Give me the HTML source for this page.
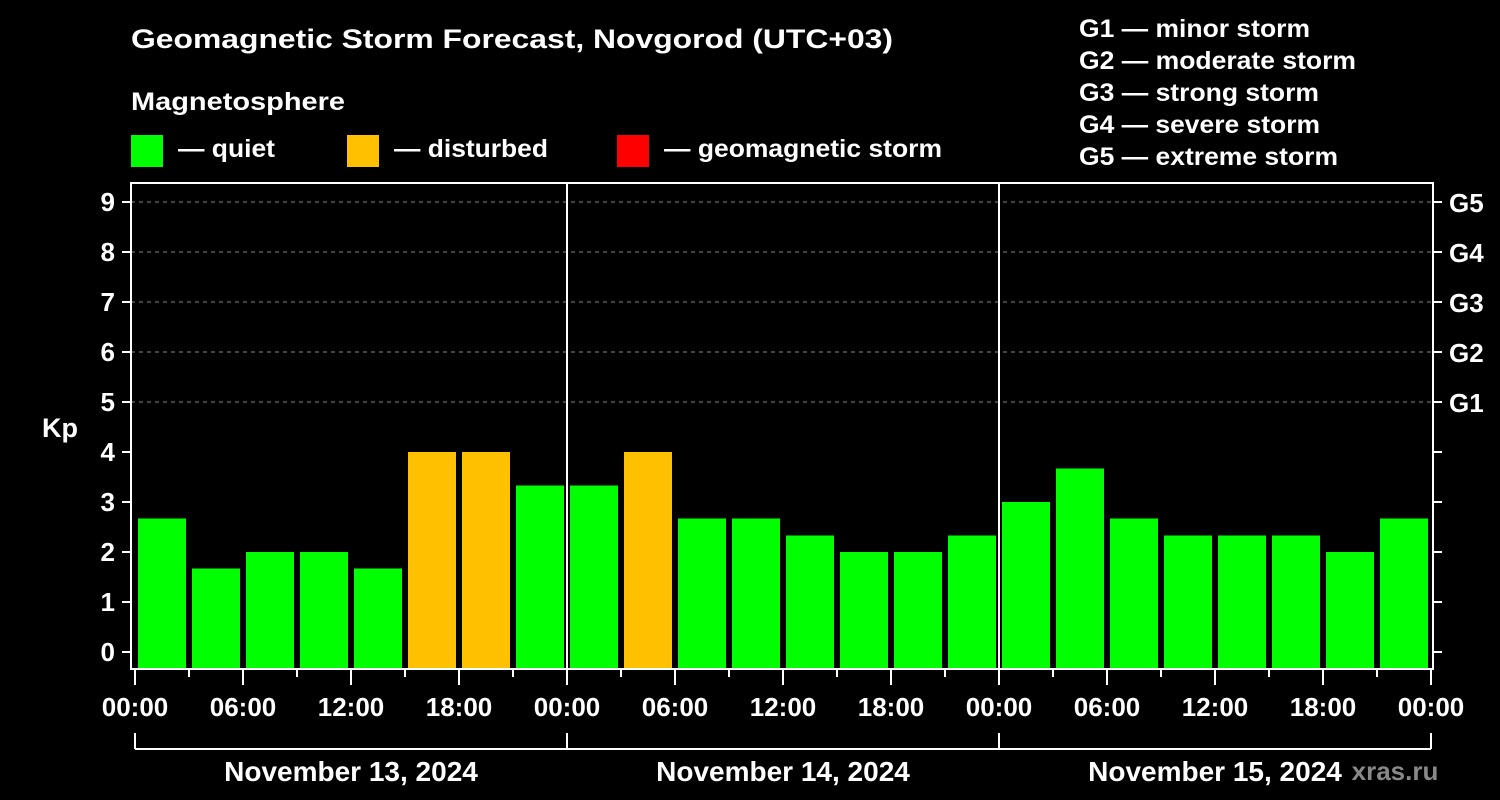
<!DOCTYPE html>
<html><head><meta charset="utf-8"><style>
body{margin:0;background:#000;}
svg{display:block;}
text{font-family:"Liberation Sans",Arial,sans-serif;font-weight:bold;}
</style></head><body>
<svg id="chart" width="1500" height="800" viewBox="0 0 1500 800">
<rect width="1500" height="800" fill="#000"/>
<text x="131" y="48" fill="#fff" font-size="27" textLength="762" lengthAdjust="spacingAndGlyphs">Geomagnetic Storm Forecast, Novgorod (UTC+03)</text>
<text x="131" y="110" fill="#fff" font-size="25" textLength="214" lengthAdjust="spacingAndGlyphs">Magnetosphere</text>
<g><rect x="131" y="135" width="32" height="32" fill="#00ff00"/><text x="178" y="157" fill="#fff" font-size="25" textLength="97" lengthAdjust="spacingAndGlyphs">— quiet</text></g>
<g><rect x="347" y="135" width="32" height="32" fill="#ffc000"/><text x="394" y="157" fill="#fff" font-size="25" textLength="154" lengthAdjust="spacingAndGlyphs">— disturbed</text></g>
<g><rect x="617" y="135" width="32" height="32" fill="#ff0000"/><text x="664" y="157" fill="#fff" font-size="25" textLength="278" lengthAdjust="spacingAndGlyphs">— geomagnetic storm</text></g>
<g fill="#fff" font-size="25">
<text x="1079" y="37" textLength="231" lengthAdjust="spacingAndGlyphs">G1 — minor storm</text>
<text x="1079" y="69" textLength="277" lengthAdjust="spacingAndGlyphs">G2 — moderate storm</text>
<text x="1079" y="101" textLength="240" lengthAdjust="spacingAndGlyphs">G3 — strong storm</text>
<text x="1079" y="133" textLength="241" lengthAdjust="spacingAndGlyphs">G4 — severe storm</text>
<text x="1079" y="165" textLength="259" lengthAdjust="spacingAndGlyphs">G5 — extreme storm</text>
</g>
<text x="42" y="437" fill="#fff" font-size="27">Kp</text>
<text x="1395" y="780" fill="#888" font-size="26" text-anchor="middle">xras.ru</text>
<g id="grid"></g><g id="bars"></g><g id="axes"></g>
</svg>
<script>
const values = [2.67,1.67,2,2,1.67,4,4,3.33, 3.33,4,2.67,2.67,2.33,2,2,2.33, 3,3.67,2.67,2.33,2.33,2.33,2,2.67];
const dayLabels = ["November 13, 2024","November 14, 2024","November 15, 2024"];
const timeLabels = ["00:00","06:00","12:00","18:00"];
const yTicks = [0,1,2,3,4,5,6,7,8,9];
const gLabels = ["G1","G2","G3","G4","G5"];
const NS="http://www.w3.org/2000/svg";
const x0=135, dayW=432, barStep=dayW/8;
const X=h=>x0+h*dayW/24;
const Y=k=>652-k*50;
const pL=131,pR=1433,pT=183,pB=669;
function mk(t,a,p){const e=document.createElementNS(NS,t);for(const k in a)e.setAttribute(k,a[k]);p.appendChild(e);return e;}
const grid=document.getElementById('grid'),bars=document.getElementById('bars'),axes=document.getElementById('axes');
yTicks.forEach(k=>{
  if(k>=5){const l=mk('line',{x1:pL,x2:pR,y1:Y(k),y2:Y(k),stroke:'#888','stroke-dasharray':'4,4','stroke-width':1},grid);
  
  }
  mk('line',{x1:pL-9,x2:pL,y1:Y(k),y2:Y(k),stroke:'#fff','stroke-width':2},axes);
  mk('line',{x1:pR,x2:pR+9,y1:Y(k),y2:Y(k),stroke:'#fff','stroke-width':2},axes);
  const lb=mk('text',{x:pL-16,y:Y(k)+9,fill:'#fff','font-size':26,'text-anchor':'end'},axes);lb.textContent=k;
  
  
});
gLabels.forEach((g,i)=>{const t=mk('text',{x:pR+16,y:Y(5+i)+10,fill:'#fff','font-size':26},axes);t.textContent=g;
  
  });
values.forEach((v,i)=>{
  const c=v>=5?'#ff0000':(v>=4?'#ffc000':'#00ff00');
  const r=mk('rect',{x:x0+i*barStep+3,y:Y(v),width:barStep-6,height:pB-Y(v),fill:c},bars);
  
  
});
mk('rect',{x:pL,y:pT,width:pR-pL,height:pB-pT,fill:'none',stroke:'#fff','stroke-width':2},axes);
for(let d=1;d<3;d++)mk('line',{x1:X(24*d),x2:X(24*d),y1:pT,y2:pB,stroke:'#fff','stroke-width':2},axes);
for(let h=0;h<=72;h+=3){
  const major=h%6===0;
  mk('line',{x1:X(h),x2:X(h),y1:pB,y2:pB+(major?16:8),stroke:'#fff','stroke-width':2},axes);
  if(major){const tl=mk('text',{x:X(h),y:716,fill:'#fff','font-size':26,'text-anchor':'middle'},axes);
    tl.textContent=timeLabels[(h/6)%4];
    
    }
}
mk('line',{x1:X(0),x2:X(72),y1:749,y2:749,stroke:'#fff','stroke-width':2},axes);
for(let d=0;d<=3;d++)mk('line',{x1:X(24*d),x2:X(24*d),y1:733,y2:749,stroke:'#fff','stroke-width':2},axes);
dayLabels.forEach((s,d)=>{const dl=mk('text',{x:X(24*d+12),y:781,fill:'#fff','font-size':28,'text-anchor':'middle'},axes);dl.textContent=s;
  
  });
</script>
</body></html>
